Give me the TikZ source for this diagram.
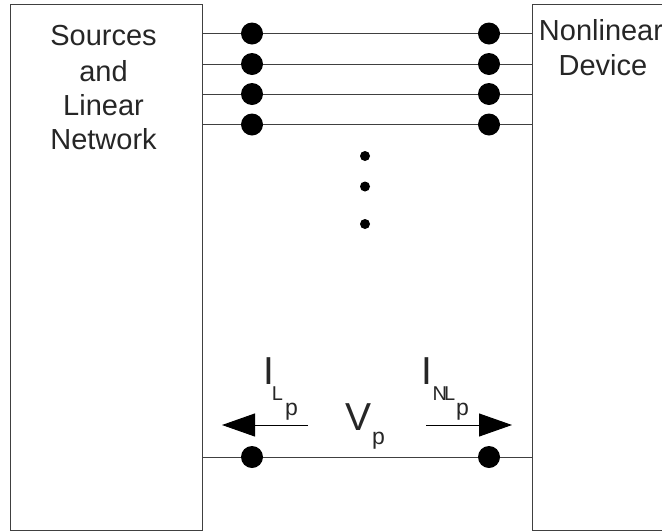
\documentclass[tikz,border=0pt]{standalone}
\usepackage{fontspec}
\setmainfont{Liberation Sans}
\usetikzlibrary{arrows.meta}
\tikzset{
  blockbox/.style={draw=black!75,line width=1pt,inner sep=0pt},
  bigdot/.style={circle,fill=black,inner sep=0pt,minimum size=22pt},
  smalldot/.style={circle,fill=black,inner sep=0pt,minimum size=10pt},
  wire/.style={draw=black!75,line width=1pt},
  label/.style={inner sep=0pt,text=black!85,font=\fontsize{29}{29}\selectfont},
  biglabel/.style={inner sep=0pt,text=black!85,font=\fontsize{39}{39}\selectfont},
  sublabel/.style={inner sep=0pt,text=black!85,font=\fontsize{23}{23}\selectfont},
  tinylabel/.style={inner sep=0pt,text=black!85,font=\fontsize{20}{20}\selectfont},
  headline/.style={draw=black,line width=1pt,-{Triangle[length=33pt,width=23pt]}}
}
\begin{document}
\begin{tikzpicture}[x=1pt,y=-1pt]
        \useasboundingbox (0,0) rectangle (662,531);
        \node[blockbox,minimum width=191.5pt,minimum height=525.5pt] (source) at (106.5,267.25) {};
        \node[blockbox,minimum width=140pt,minimum height=525.5pt] (device) at (602,267.25) {};
        \node[label] (sources) at (103.5,36) {Sources};
        \node[label] (and) at (103.5,71) {and};
        \node[label] (linear) at (103.5,105) {Linear};
        \node[label] (network) at (103.5,139) {Network};
        \node[label] (nonlinear) at (601,30) {Nonlinear};
        \node[label] (devicetext) at (603,65) {Device};
        \node[bigdot] (la) at (252,33.5) {};
        \node[bigdot] (lb) at (252,64) {};
        \node[bigdot] (lc) at (252,94) {};
        \node[bigdot] (ld) at (252,124.5) {};
        \node[bigdot] (lp) at (252,457) {};
        \node[bigdot] (ra) at (489,33.5) {};
        \node[bigdot] (rb) at (489,64) {};
        \node[bigdot] (rc) at (489,94) {};
        \node[bigdot] (rd) at (489,124.5) {};
        \node[bigdot] (rp) at (489,457) {};
        \node[smalldot] (dota) at (365,156) {};
        \node[smalldot] (dotb) at (365,186.5) {};
        \node[smalldot] (dotc) at (365,224) {};
        \draw[wire] (source.east |- la) -- (la) -- (ra) -- (device.west |- ra);
        \draw[wire] (source.east |- lb) -- (lb) -- (rb) -- (device.west |- rb);
        \draw[wire] (source.east |- lc) -- (lc) -- (rc) -- (device.west |- rc);
        \draw[wire] (source.east |- ld) -- (ld) -- (rd) -- (device.west |- rd);
        \draw[wire] (source.east |- lp) -- (lp) -- (rp) -- (device.west |- rp);
        \coordinate (ltail) at (308,425);
        \coordinate (ltip) at (222,425);
        \coordinate (rtail) at (426,425);
        \coordinate (rtip) at (512,425);
        \draw[headline] (ltail) -- (ltip);
        \draw[headline] (rtail) -- (rtip);
        \node[biglabel] (vp) at (358.5,417) {V};
        \node[sublabel] (vpsub) at (378.5,441) {p};
        \node[biglabel] (il) at (268.5,371) {I};
        \node[tinylabel] (ilsub) at (277.5,393.5) {L};
        \node[sublabel] (ilp) at (291.5,411.5) {p};
        \node[biglabel] (inl) at (427,371) {I};
        \node[tinylabel] (inlsub) at (444,393.5) {N\kern-3pt L};
        \node[sublabel] (inlp) at (462.5,411.5) {p};
      \end{tikzpicture}
\end{document}
